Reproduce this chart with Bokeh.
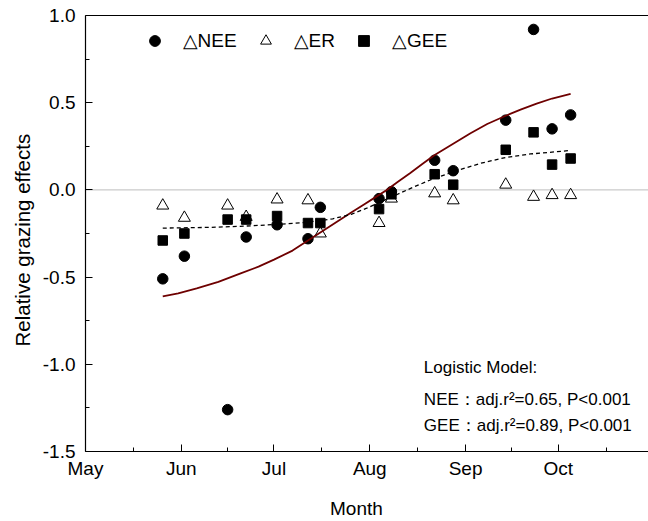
from bokeh.plotting import figure
from bokeh.models import (FixedTicker, CustomJSTickFormatter, LinearAxis, Span, Label,
                          Legend, LegendItem, Range1d, Title)
from bokeh.embed import file_html
from bokeh.resources import INLINE

# ---- data (days since 1 May) ----
days = [25, 32, 46, 52, 62, 72, 76, 95, 99, 113, 119, 136, 145, 151, 157]
nee = [-0.51, -0.38, -1.26, -0.27, -0.20, -0.28, -0.10, -0.05, -0.01, 0.17, 0.11, 0.40, 0.92, 0.35, 0.43]
er = [-0.09, -0.16, -0.09, -0.155, -0.055, -0.06, -0.25, -0.19, -0.05, -0.02, -0.06, 0.03, -0.04, -0.03, -0.03]
gee = [-0.29, -0.25, -0.17, -0.17, -0.15, -0.19, -0.19, -0.11, -0.025, 0.09, 0.03, 0.23, 0.33, 0.145, 0.18]

nee_fit_day = [25, 30, 36, 43, 50, 56, 61, 67, 72, 77, 82, 86, 90, 94, 97.5, 101, 105, 109, 113,
               119, 124.6, 130, 136, 141, 146, 151, 157]
nee_fit_val = [-0.61, -0.593, -0.565, -0.527, -0.48, -0.44, -0.40, -0.348, -0.29, -0.233, -0.175,
               -0.13, -0.085, -0.04, 0.0, 0.045, 0.095, 0.148, 0.20, 0.265, 0.325, 0.378, 0.425,
               0.462, 0.495, 0.524, 0.55]

gee_fit_day = [25, 40, 50, 62, 72, 80, 86, 91, 96, 101, 106, 112, 120, 128, 136, 144, 157]
gee_fit_val = [-0.219, -0.215, -0.209, -0.198, -0.185, -0.166, -0.14, -0.105, -0.065, -0.025, 0.015,
               0.06, 0.11, 0.153, 0.186, 0.206, 0.226]

month_days = [0, 31, 61, 92, 123, 153]
month_names = ["May", "Jun", "Jul", "Aug", "Sep", "Oct"]
minor_days = [15.5, 46, 76.5, 107.5, 138, 168.5]
y_ticks = [-1.5, -1.0, -0.5, 0.0, 0.5, 1.0]
y_minor = [-1.25, -0.75, -0.25, 0.25, 0.75]

legend_labels = ["△NEE", "△ER", "△GEE"]
stat_lines = ["Logistic Model:", "NEE：adj.r²=0.65, P<0.001", "GEE：adj.r²=0.89, P<0.001"]
stat_y = [-1.021, -1.203, -1.35]

FONT = "Liberation Sans"

p = figure(width=648, height=521, x_range=Range1d(0, 182.2), y_range=Range1d(-1.5, 1.0),
           output_backend="svg", toolbar_location=None,
           min_border_left=85, min_border_right=0, min_border_top=15, min_border_bottom=69)
p.outline_line_color = None
p.grid.visible = False
p.background_fill_color = "white"

xa = p.xaxis[0]
xa.ticker = FixedTicker(ticks=month_days, minor_ticks=minor_days)
xa.formatter = CustomJSTickFormatter(args=dict(days=month_days, names=month_names),
                                     code="const i = days.indexOf(tick); return i >= 0 ? names[i] : '';")
# non-breaking spaces on the right shift the centred label a little to the left, as in the original
xa.axis_label = "Month\u00a0\u00a0\u00a0\u00a0"
xa.axis_label_standoff = 16
xa.axis_label_text_font = FONT
xa.axis_label_text_font_size = "19px"
xa.axis_label_text_font_style = "normal"
xa.axis_label_text_color = "black"

ya = p.yaxis[0]
ya.ticker = FixedTicker(ticks=y_ticks, minor_ticks=y_minor)
ya.formatter = CustomJSTickFormatter(code="return tick.toFixed(1);")

for ax in (xa, ya):
    ax.axis_line_color = "black"
    ax.axis_line_width = 1.2
    ax.major_tick_in = 7
    ax.major_tick_out = 0
    ax.minor_tick_in = 4
    ax.minor_tick_out = 0
    ax.major_tick_line_color = "black"
    ax.minor_tick_line_color = "black"
    ax.major_label_text_font = FONT
    ax.major_label_text_font_size = "19px"
    ax.major_label_text_color = "black"
xa.major_label_standoff = 6
ya.major_label_standoff = 10

top = LinearAxis(ticker=FixedTicker(ticks=[]), major_tick_in=0, major_tick_out=0,
                 minor_tick_in=0, minor_tick_out=0, major_label_text_font_size="0px",
                 axis_line_color="black", axis_line_width=1.2)
p.add_layout(top, "above")

p.add_layout(Span(location=0, dimension="width", line_color="#bdbdbd", line_width=1, level="underlay"))

r_nee = p.scatter(days, nee, marker="circle", size=10.5, fill_color="black", line_color="black")
r_er = p.scatter(days, er, marker="triangle", size=12, fill_color="white", line_color="black", line_width=1)
r_gee = p.scatter(days, gee, marker="square", size=9.5, fill_color="black", line_color="black")

p.line(nee_fit_day, nee_fit_val, line_color="#6e0000", line_width=1.8)
p.line(gee_fit_day, gee_fit_val, line_color="black", line_width=1.3, line_dash="4 3")

legend = Legend(items=[LegendItem(label=legend_labels[0], renderers=[r_nee]),
                       LegendItem(label=legend_labels[1], renderers=[r_er]),
                       LegendItem(label=legend_labels[2], renderers=[r_gee])],
                orientation="horizontal", location=(55.5, 397.5),
                glyph_width=27, glyph_height=27, label_standoff=15, spacing=15,
                padding=0, margin=0, border_line_color=None, background_fill_alpha=0,
                label_text_font=FONT, label_text_font_size="19px", label_text_color="black")
p.add_layout(legend)

for txt, yv in zip(stat_lines, stat_y):
    p.add_layout(Label(x=109.5, y=yv, text=txt, text_font=FONT, text_font_size="17px",
                       text_baseline="alphabetic", text_align="left", text_color="black"))

p.add_layout(Title(text="Relative grazing effects", align="left", offset=105, standoff=12,
                   text_font=FONT, text_font_size="20.5px", text_font_style="normal",
                   text_color="black"), "left")

open("out.html", "w").write(file_html(p, INLINE))
